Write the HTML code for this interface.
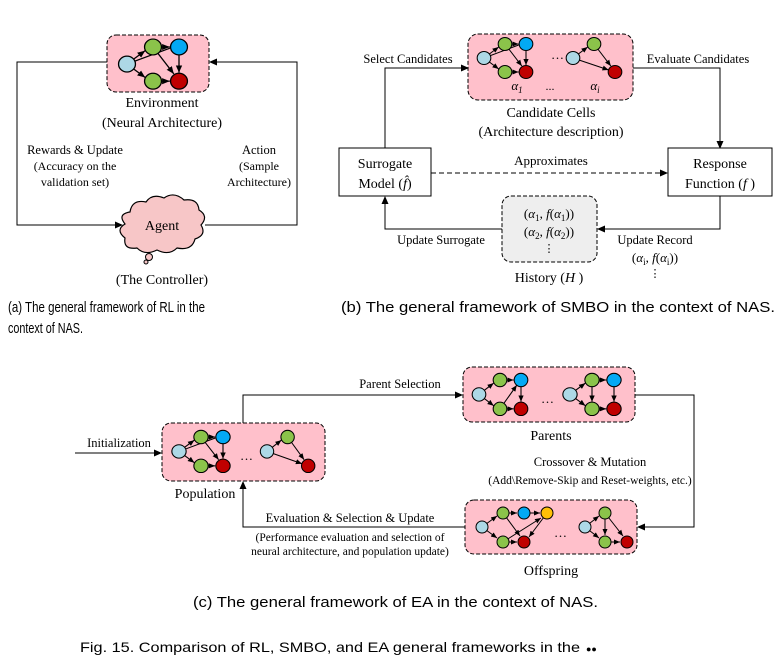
<!DOCTYPE html>
<html><head><meta charset="utf-8"><style>
html,body{margin:0;padding:0;background:#fff;}
svg{display:block;}
.t{font-family:"Liberation Serif",serif;fill:#000;}
.c{font-family:"Liberation Sans",sans-serif;fill:#000;}
</style></head><body>
<svg width="783" height="669" viewBox="0 0 783 669" xmlns="http://www.w3.org/2000/svg">
<defs>
<marker id="ar" markerWidth="8" markerHeight="8" refX="7" refY="4" orient="auto" markerUnits="userSpaceOnUse">
<path d="M0,0.5 L8,4 L0,7.5 Z" fill="#000"/></marker>
<marker id="sa" markerWidth="6" markerHeight="6" refX="6" refY="3" orient="auto" markerUnits="userSpaceOnUse">
<path d="M0,0.5 L6,3 L0,5.5 Z" fill="#000"/></marker>
<g id="c5">
<line x1="0" y1="14" x2="14" y2="3" stroke="#000" marker-end="url(#sa)"/>
<line x1="0" y1="14" x2="14" y2="25" stroke="#000" marker-end="url(#sa)"/>
<line x1="20" y1="0" x2="33" y2="0" stroke="#000" marker-end="url(#sa)"/>
<line x1="20" y1="28" x2="33" y2="28" stroke="#000" marker-end="url(#sa)"/>
<line x1="40" y1="0" x2="40" y2="21" stroke="#000" marker-end="url(#sa)"/>
<line x1="20" y1="0" x2="36" y2="22" stroke="#000" marker-end="url(#sa)"/>
<line x1="0" y1="14" x2="33" y2="1" stroke="#000"/>
<circle cx="0" cy="14" r="6.5" fill="#add8e6" stroke="#000"/>
<circle cx="20" cy="0" r="6.5" fill="#8bc34a" stroke="#000"/>
<circle cx="40" cy="0" r="6.5" fill="#03a9f4" stroke="#000"/>
<circle cx="20" cy="28" r="6.5" fill="#8bc34a" stroke="#000"/>
<circle cx="40" cy="28" r="6.5" fill="#c00000" stroke="#000"/>
</g>
<g id="c3">
<line x1="0" y1="14" x2="14" y2="3" stroke="#000" marker-end="url(#sa)"/>
<line x1="0" y1="14" x2="34" y2="26" stroke="#000" marker-end="url(#sa)"/>
<line x1="20" y1="0" x2="36" y2="22" stroke="#000" marker-end="url(#sa)"/>
<circle cx="0" cy="14" r="6.5" fill="#add8e6" stroke="#000"/>
<circle cx="20" cy="0" r="6.5" fill="#8bc34a" stroke="#000"/>
<circle cx="40" cy="28" r="6.5" fill="#c00000" stroke="#000"/>
</g>
<g id="c5p">
<line x1="0" y1="14" x2="14" y2="3" stroke="#000" marker-end="url(#sa)"/>
<line x1="0" y1="14" x2="14" y2="25" stroke="#000" marker-end="url(#sa)"/>
<line x1="20" y1="0" x2="33" y2="0" stroke="#000" marker-end="url(#sa)"/>
<line x1="20" y1="28" x2="33" y2="28" stroke="#000" marker-end="url(#sa)"/>
<line x1="40" y1="0" x2="40" y2="21" stroke="#000" marker-end="url(#sa)"/>
<line x1="20" y1="28" x2="36" y2="5" stroke="#000" marker-end="url(#sa)"/>
<circle cx="0" cy="14" r="6.5" fill="#add8e6" stroke="#000"/>
<circle cx="20" cy="0" r="6.5" fill="#8bc34a" stroke="#000"/>
<circle cx="40" cy="0" r="6.5" fill="#03a9f4" stroke="#000"/>
<circle cx="20" cy="28" r="6.5" fill="#8bc34a" stroke="#000"/>
<circle cx="40" cy="28" r="6.5" fill="#c00000" stroke="#000"/>
</g>
<g id="c5b">
<line x1="0" y1="14" x2="14" y2="3" stroke="#000" marker-end="url(#sa)"/>
<line x1="0" y1="14" x2="14" y2="25" stroke="#000" marker-end="url(#sa)"/>
<line x1="20" y1="0" x2="33" y2="0" stroke="#000" marker-end="url(#sa)"/>
<line x1="20" y1="28" x2="33" y2="28" stroke="#000" marker-end="url(#sa)"/>
<line x1="40" y1="0" x2="40" y2="21" stroke="#000" marker-end="url(#sa)"/>
<line x1="20" y1="0" x2="20" y2="21" stroke="#000" marker-end="url(#sa)"/>
<circle cx="0" cy="14" r="6.5" fill="#add8e6" stroke="#000"/>
<circle cx="20" cy="0" r="6.5" fill="#8bc34a" stroke="#000"/>
<circle cx="40" cy="0" r="6.5" fill="#03a9f4" stroke="#000"/>
<circle cx="20" cy="28" r="6.5" fill="#8bc34a" stroke="#000"/>
<circle cx="40" cy="28" r="6.5" fill="#c00000" stroke="#000"/>
</g>
</defs>

<!-- Panel A -->
<rect x="107" y="35" width="102" height="57" rx="9" fill="#ffc0cb" stroke="#000" stroke-dasharray="4,2"/>
<use href="#c5" transform="translate(127,47) scale(1.3,1.22)"/>
<polyline points="107,62 17,62 17,225 122,225" fill="none" stroke="#000" marker-end="url(#ar)"/>
<polyline points="205,225 297,225 297,62 210,62" fill="none" stroke="#000" marker-end="url(#ar)"/>
<text class="t" x="162" y="107" font-size="14" text-anchor="middle">Environment</text>
<text class="t" x="162" y="127" font-size="14" text-anchor="middle">(Neural Architecture)</text>
<text class="t" x="75" y="154" font-size="12.5" text-anchor="middle">Rewards &amp; Update</text>
<text class="t" x="75" y="170" font-size="12" text-anchor="middle">(Accuracy on the</text>
<text class="t" x="75" y="186" font-size="12" text-anchor="middle">validation set)</text>
<text class="t" x="259" y="154" font-size="12.5" text-anchor="middle">Action</text>
<text class="t" x="259" y="170" font-size="12" text-anchor="middle">(Sample</text>
<text class="t" x="259" y="186" font-size="12" text-anchor="middle">Architecture)</text>
<path d="M130,212 q2,-13 16,-10 q6,-9 18,-4 q10,-7 20,2 q14,-2 15,10 q10,6 2,15 q6,10 -6,14 q-3,12 -18,9 q-8,8 -20,2 q-12,6 -20,-2 q-14,2 -12,-10 q-10,-8 0,-14 q-8,-10 5,-12 z" fill="#f7c6c7" stroke="#000" stroke-width="1.2"/>
<circle cx="149" cy="257" r="3.5" fill="#f7c6c7" stroke="#000"/>
<circle cx="146" cy="262" r="2" fill="#f7c6c7" stroke="#000"/>
<text class="t" x="162" y="230" font-size="14" text-anchor="middle">Agent</text>
<text class="t" x="162" y="284" font-size="14" text-anchor="middle">(The Controller)</text>
<text class="c" x="8" y="312" font-size="15" textLength="197" lengthAdjust="spacingAndGlyphs">(a) The general framework of RL in the</text>
<text class="c" x="8" y="333" font-size="15" textLength="75" lengthAdjust="spacingAndGlyphs">context of NAS.</text>

<!-- Panel B -->
<rect x="468" y="34" width="165" height="66" rx="10" fill="#ffc0cb" stroke="#000" stroke-dasharray="4,2"/>
<use href="#c5" transform="translate(484,44) scale(1.05,1)"/>
<text class="t" x="551" y="59" font-size="13">…</text>
<use href="#c3" transform="translate(573,44) scale(1.05,1)"/>
<text class="t" x="517" y="90" font-size="13" font-style="italic" text-anchor="middle">α<tspan font-size="9" dy="3">1</tspan></text>
<text class="t" x="550" y="90" font-size="12" text-anchor="middle">...</text>
<text class="t" x="595" y="90" font-size="13" font-style="italic" text-anchor="middle">α<tspan font-size="9" dy="3">i</tspan></text>
<text class="t" x="551" y="117" font-size="14" text-anchor="middle">Candidate Cells</text>
<text class="t" x="551" y="136" font-size="14" text-anchor="middle">(Architecture description)</text>
<polyline points="385,148 385,68 468,68" fill="none" stroke="#000" marker-end="url(#ar)"/>
<text class="t" x="408" y="63" font-size="12.5" text-anchor="middle">Select Candidates</text>
<polyline points="633,68 720,68 720,148" fill="none" stroke="#000" marker-end="url(#ar)"/>
<text class="t" x="698" y="63" font-size="12.5" text-anchor="middle">Evaluate Candidates</text>
<rect x="339" y="148" width="92" height="48" fill="#fff" stroke="#000"/>
<text class="t" x="385" y="168" font-size="14" text-anchor="middle">Surrogate</text>
<text class="t" x="385" y="188" font-size="14" text-anchor="middle">Model (<tspan font-style="italic">f̂</tspan>)</text>
<rect x="668" y="148" width="104" height="48" fill="#fff" stroke="#000"/>
<text class="t" x="720" y="168" font-size="14" text-anchor="middle">Response</text>
<text class="t" x="720" y="188" font-size="14" text-anchor="middle">Function (<tspan font-style="italic">f</tspan> )</text>
<line x1="431" y1="173" x2="667" y2="173" stroke="#000" stroke-dasharray="5,3" marker-end="url(#ar)"/>
<text class="t" x="551" y="165" font-size="13" text-anchor="middle">Approximates</text>
<rect x="502" y="196" width="95" height="66" rx="9" fill="#eeeeee" stroke="#000" stroke-dasharray="4,2"/>
<text class="t" x="549" y="218" font-size="13" text-anchor="middle">(<tspan font-style="italic">α</tspan><tspan font-size="9" dy="3">1</tspan><tspan dy="-3">, </tspan><tspan font-style="italic">f</tspan>(<tspan font-style="italic">α</tspan><tspan font-size="9" dy="3">1</tspan><tspan dy="-3">))</tspan></text>
<text class="t" x="549" y="236" font-size="13" text-anchor="middle">(<tspan font-style="italic">α</tspan><tspan font-size="9" dy="3">2</tspan><tspan dy="-3">, </tspan><tspan font-style="italic">f</tspan>(<tspan font-style="italic">α</tspan><tspan font-size="9" dy="3">2</tspan><tspan dy="-3">))</tspan></text>
<text class="t" x="549" y="252" font-size="11" text-anchor="middle">⋮</text>
<polyline points="720,196 720,229 598,229" fill="none" stroke="#000" marker-end="url(#ar)"/>
<polyline points="502,229 385,229 385,197" fill="none" stroke="#000" marker-end="url(#ar)"/>
<text class="t" x="441" y="244" font-size="12.5" text-anchor="middle">Update Surrogate</text>
<text class="t" x="655" y="244" font-size="12.5" text-anchor="middle">Update Record</text>
<text class="t" x="655" y="262" font-size="13" text-anchor="middle">(<tspan font-style="italic">α</tspan><tspan font-size="9" dy="3">i</tspan><tspan dy="-3">, </tspan><tspan font-style="italic">f</tspan>(<tspan font-style="italic">α</tspan><tspan font-size="9" dy="3">i</tspan><tspan dy="-3">))</tspan></text>
<text class="t" x="655" y="277" font-size="11" text-anchor="middle">⋮</text>
<text class="t" x="549" y="282" font-size="14" text-anchor="middle">History (<tspan font-style="italic">H</tspan> )</text>
<text class="c" x="341" y="312" font-size="15" textLength="434" lengthAdjust="spacingAndGlyphs">(b) The general framework of SMBO in the context of NAS.</text>

<!-- Panel C -->
<rect x="162" y="423" width="163" height="58" rx="9" fill="#ffc0cb" stroke="#000" stroke-dasharray="4,2"/>
<use href="#c5" transform="translate(179,437) scale(1.1,1.03)"/>
<text class="t" x="240" y="460" font-size="13">…</text>
<use href="#c3" transform="translate(267,437) scale(1.03,1.03)"/>
<rect x="463" y="367" width="172" height="55" rx="9" fill="#ffc0cb" stroke="#000" stroke-dasharray="4,2"/>
<use href="#c5p" transform="translate(479,380) scale(1.05,1.03)"/>
<text class="t" x="541" y="403" font-size="13">…</text>
<use href="#c5b" transform="translate(570,380) scale(1.1,1.03)"/>
<rect x="465" y="500" width="172" height="54" rx="9" fill="#ffc0cb" stroke="#000" stroke-dasharray="4,2"/>
<g transform="translate(482,513)">
<line x1="0" y1="14" x2="15" y2="3" stroke="#000" marker-end="url(#sa)"/>
<line x1="0" y1="14" x2="15" y2="25" stroke="#000" marker-end="url(#sa)"/>
<line x1="21" y1="0" x2="35" y2="0" stroke="#000" marker-end="url(#sa)"/>
<line x1="21" y1="29" x2="35" y2="29" stroke="#000" marker-end="url(#sa)"/>
<line x1="42" y1="0" x2="58" y2="0" stroke="#000" marker-end="url(#sa)"/>
<line x1="21" y1="0" x2="38" y2="23" stroke="#000" marker-end="url(#sa)"/>
<line x1="21" y1="29" x2="59" y2="5" stroke="#000" marker-end="url(#sa)"/>
<line x1="65" y1="0" x2="47" y2="24" stroke="#000" marker-end="url(#sa)"/>
<circle cx="0" cy="14" r="6" fill="#add8e6" stroke="#000"/>
<circle cx="21" cy="0" r="6" fill="#8bc34a" stroke="#000"/>
<circle cx="42" cy="0" r="6" fill="#03a9f4" stroke="#000"/>
<circle cx="65" cy="0" r="6" fill="#ffc107" stroke="#000"/>
<circle cx="21" cy="29" r="6" fill="#8bc34a" stroke="#000"/>
<circle cx="42" cy="29" r="6" fill="#c00000" stroke="#000"/>
</g>
<text class="t" x="554" y="537" font-size="13">…</text>
<g transform="translate(585,513)">
<line x1="0" y1="14" x2="14" y2="3" stroke="#000" marker-end="url(#sa)"/>
<line x1="0" y1="14" x2="14" y2="25" stroke="#000" marker-end="url(#sa)"/>
<line x1="20" y1="0" x2="20" y2="22" stroke="#000" marker-end="url(#sa)"/>
<line x1="20" y1="0" x2="38" y2="23" stroke="#000" marker-end="url(#sa)"/>
<line x1="20" y1="29" x2="35" y2="29" stroke="#000" marker-end="url(#sa)"/>
<circle cx="0" cy="14" r="6" fill="#add8e6" stroke="#000"/>
<circle cx="20" cy="0" r="6" fill="#8bc34a" stroke="#000"/>
<circle cx="20" cy="29" r="6" fill="#8bc34a" stroke="#000"/>
<circle cx="42" cy="29" r="6" fill="#c00000" stroke="#000"/>
</g>
<polyline points="75,453 161,453" fill="none" stroke="#000" marker-end="url(#ar)"/>
<text class="t" x="119" y="447" font-size="12.5" text-anchor="middle">Initialization</text>
<polyline points="243,423 243,395 462,395" fill="none" stroke="#000" marker-end="url(#ar)"/>
<text class="t" x="400" y="388" font-size="12.5" text-anchor="middle">Parent Selection</text>
<polyline points="635,395 694,395 694,527 638,527" fill="none" stroke="#000" marker-end="url(#ar)"/>
<text class="t" x="551" y="440" font-size="14" text-anchor="middle">Parents</text>
<text class="t" x="590" y="466" font-size="12.5" text-anchor="middle">Crossover &amp; Mutation</text>
<text class="t" x="590" y="484" font-size="11.5" text-anchor="middle">(Add\Remove-Skip and Reset-weights, etc.)</text>
<polyline points="465,527 243,527 243,482" fill="none" stroke="#000" marker-end="url(#ar)"/>
<text class="t" x="205" y="498" font-size="14" text-anchor="middle">Population</text>
<text class="t" x="350" y="522" font-size="12.5" text-anchor="middle">Evaluation &amp; Selection &amp; Update</text>
<text class="t" x="350" y="541" font-size="11.5" text-anchor="middle">(Performance evaluation and selection of</text>
<text class="t" x="350" y="555" font-size="11.5" text-anchor="middle">neural architecture, and population update)</text>
<text class="t" x="551" y="575" font-size="14" text-anchor="middle">Offspring</text>
<text class="c" x="193" y="607" font-size="15" textLength="405" lengthAdjust="spacingAndGlyphs">(c) The general framework of EA in the context of NAS.</text>
<text class="c" x="80" y="652" font-size="14" textLength="500" lengthAdjust="spacingAndGlyphs">Fig. 15.  Comparison of RL, SMBO, and EA general frameworks in the</text>
<text class="c" x="586" y="652" font-size="9" fill="#a0522d">●●</text>
</svg>
</body></html>
